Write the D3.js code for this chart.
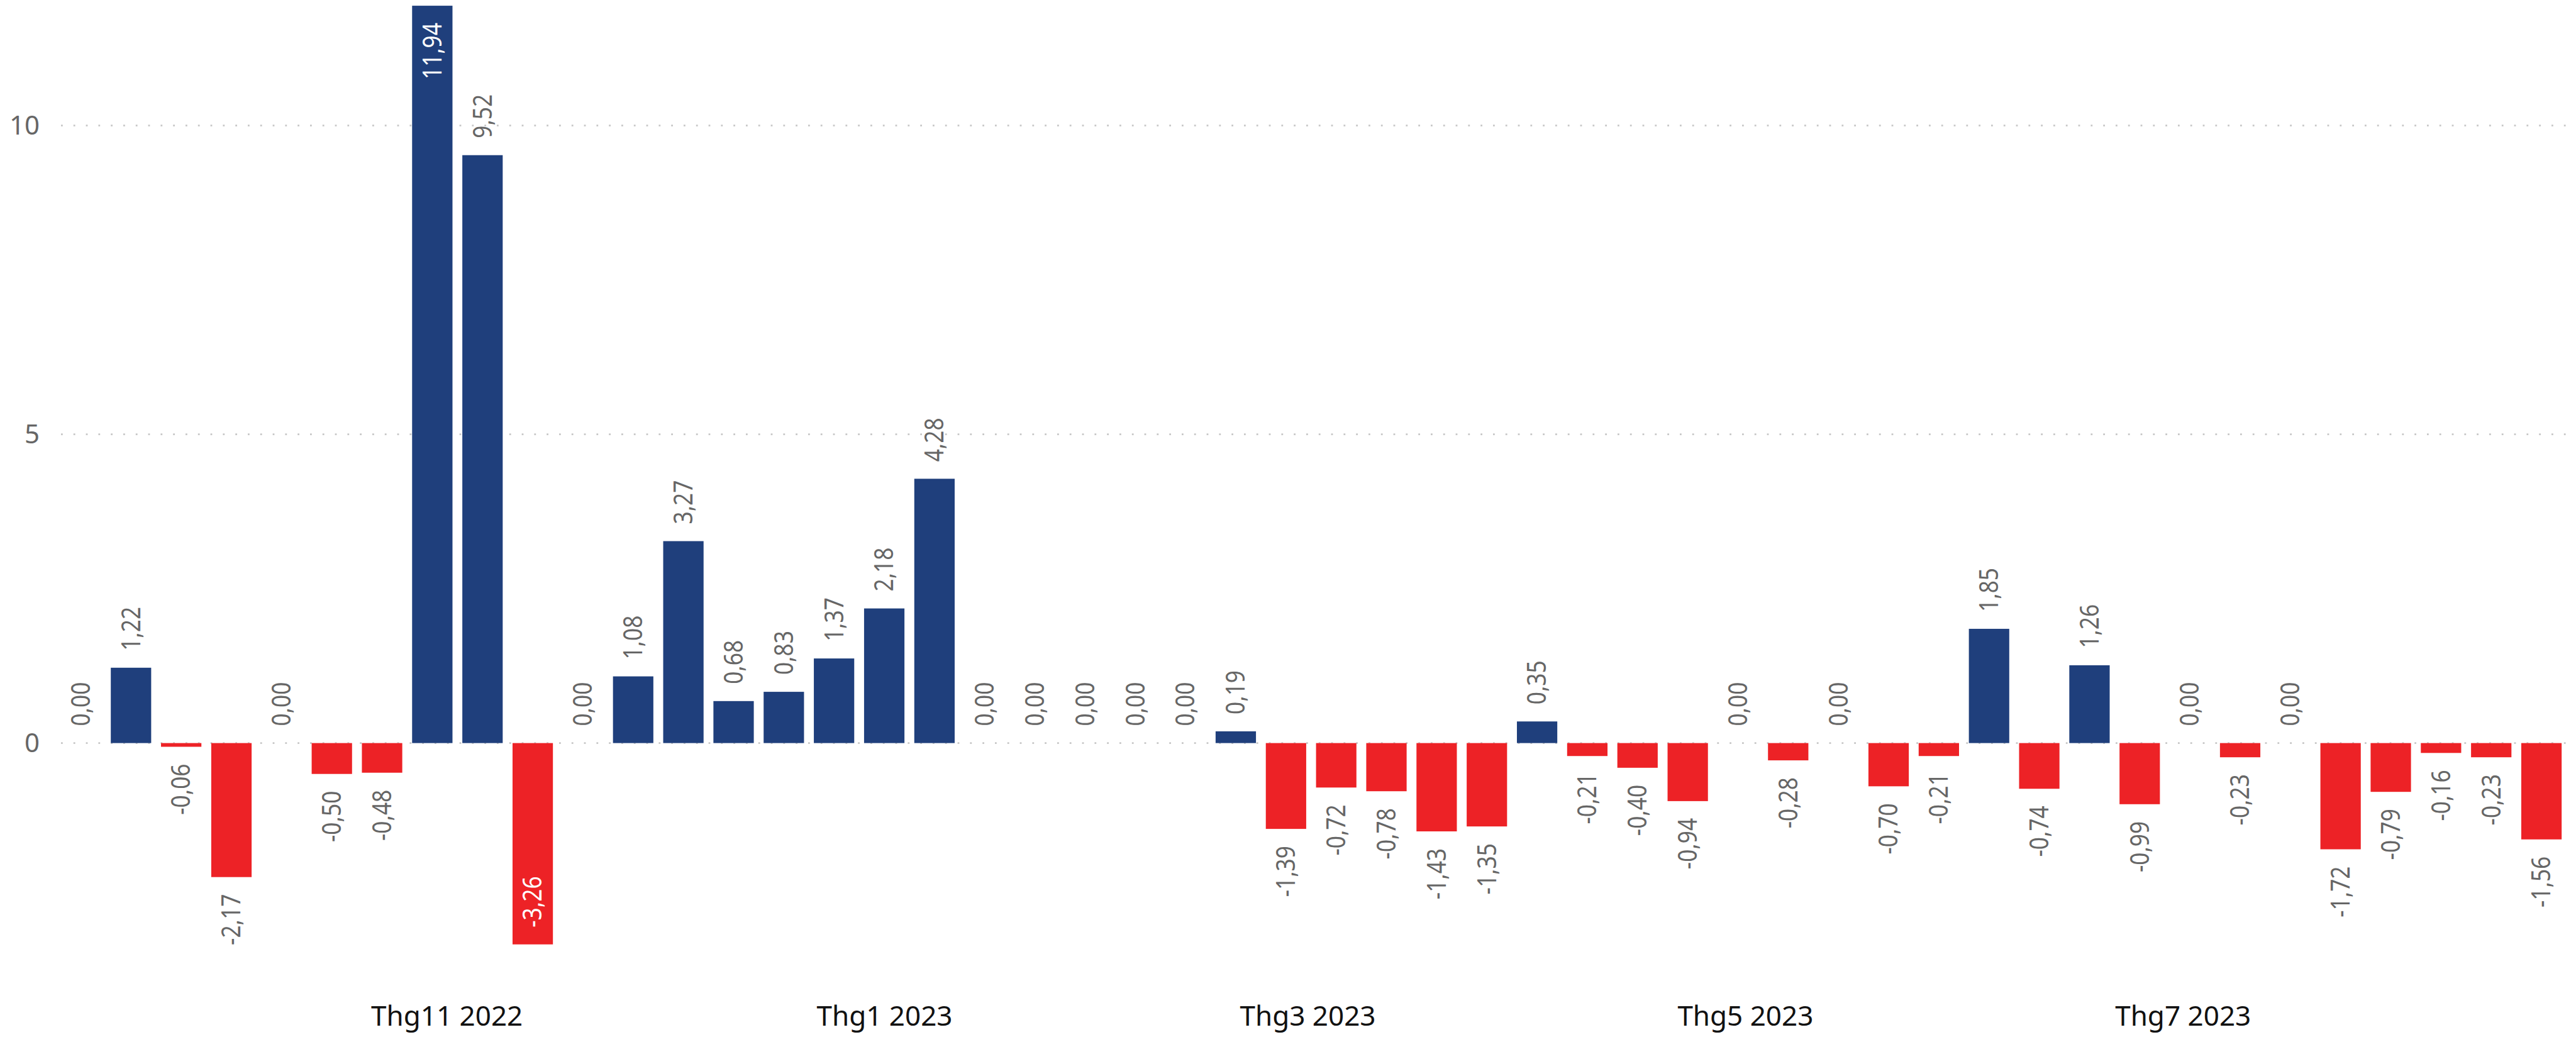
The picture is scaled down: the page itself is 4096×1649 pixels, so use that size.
<!DOCTYPE html>
<html>
<head>
<meta charset="utf-8">
<script src="https://cdn.jsdelivr.net/npm/d3@7"></script>
<style>
  html, body { margin: 0; padding: 0; background: #fff; }
  svg { display: block; }
</style>
</head>
<body>
<svg id="chart" width="4096" height="1649"></svg>
<script>
// weekly buckets (week starting sunday)
const weeks = [
  "2022-09-11", "2022-09-18", "2022-09-25", "2022-10-02", "2022-10-09",
  "2022-10-16", "2022-10-23", "2022-10-30", "2022-11-06", "2022-11-13",
  "2022-11-20", "2022-11-27", "2022-12-04", "2022-12-11", "2022-12-18",
  "2022-12-25", "2023-01-01", "2023-01-08", "2023-01-15", "2023-01-22",
  "2023-01-29", "2023-02-05", "2023-02-12", "2023-02-19", "2023-02-26",
  "2023-03-05", "2023-03-12", "2023-03-19", "2023-03-26", "2023-04-02",
  "2023-04-09", "2023-04-16", "2023-04-23", "2023-04-30", "2023-05-07",
  "2023-05-14", "2023-05-21", "2023-05-28", "2023-06-04", "2023-06-11",
  "2023-06-18", "2023-06-25", "2023-07-02", "2023-07-09", "2023-07-16",
  "2023-07-23", "2023-07-30", "2023-08-06", "2023-08-13", "2023-08-20"
]

const values = [
  0.00, 1.22, -0.06, -2.17, 0.00, -0.50, -0.48, 11.94, 9.52, -3.26,
  0.00, 1.08, 3.27, 0.68, 0.83, 1.37, 2.18, 4.28, 0.00, 0.00,
  0.00, 0.00, 0.00, 0.19, -1.39, -0.72, -0.78, -1.43, -1.35, 0.35,
  -0.21, -0.40, -0.94, 0.00, -0.28, 0.00, -0.70, -0.21, 1.85, -0.74,
  1.26, -0.99, 0.00, -0.23, 0.00, -1.72, -0.79, -0.16, -0.23, -1.56
]

const monthTicks = ["2022-11-01", "2023-01-01", "2023-03-01", "2023-05-01", "2023-07-01"]
const monthLabels = ["Thg11 2022", "Thg1 2023", "Thg3 2023", "Thg5 2023", "Thg7 2023"]

const yTicks = [0, 5, 10]

////////////////// setup

const W = 4096, H = 1649
const blue = "#1f3f7c", red = "#ed2226"
const gray = "#666666"
const labelFont = "'Noto Sans', 'Open Sans', sans-serif"
const squeeze = 0.86   // value labels are a bit narrower than Noto Sans
const gap = 27

const parse = d3.utcParse("%Y-%m-%d")
const data = weeks.map((w, i) => ({ date: parse(w), value: values[i] }))

const halfWeek = 3.5 * 24 * 3600 * 1000
const x = d3.scaleUtc()
  .domain([+data[0].date - halfWeek, +data[data.length - 1].date + halfWeek])
  .range([88.5, 4081])

const y = d3.scaleLinear()
  .domain([-4, 12])
  .range([1574.4, 3.2])

const step = x(data[1].date) - x(data[0].date)
const barW = step * 0.804

const vn = d3.formatLocale({ decimal: ",", thousands: ".", grouping: [3], currency: ["", ""], minus: "-" })
const fmt = vn.format(".2f")

const svg = d3.select("#chart")

////////////////// gridlines

svg.append("g")
  .selectAll("line")
  .data(yTicks)
  .join("line")
  .attr("x1", 97)
  .attr("x2", 4084)
  .attr("y1", d => y(d))
  .attr("y2", d => y(d))
  .attr("stroke", "#c8c8c8")
  .attr("stroke-width", 2.8)
  .attr("stroke-dasharray", "2.8,17")

// y axis labels
const yAxis = svg.append("g")
  .attr("transform", "translate(63,0)")
  .call(d3.axisLeft(y).tickValues(yTicks).tickSize(0).tickPadding(0).tickFormat(d3.format("d")))
yAxis.select(".domain").remove()
yAxis.selectAll("text")
  .attr("fill", gray)
  .style("font-family", labelFont)
  .style("font-size", "42px")

// x axis labels
const xAxis = svg.append("g")
  .attr("transform", "translate(0,1600)")
  .call(d3.axisBottom(x).tickValues(monthTicks.map(parse)).tickSize(0).tickPadding(0)
    .tickFormat((d, i) => monthLabels[i]))
xAxis.select(".domain").remove()
xAxis.selectAll("text")
  .attr("fill", "#111")
  .attr("dy", "0.71em")
  .attr("y", 0)
  .style("font-family", labelFont)
  .style("font-size", "44px")

////////////////// bars

svg.append("g")
  .selectAll("rect")
  .data(data)
  .join("rect")
  .attr("x", d => x(d.date) - barW / 2)
  .attr("width", barW)
  .attr("y", d => y(Math.max(0, d.value)))
  .attr("height", d => Math.abs(y(d.value) - y(0)))
  .attr("fill", d => d.value >= 0 ? blue : red)

////////////////// value labels (rotated)

const labels = svg.append("g")
  .selectAll("text")
  .data(data)
  .join("text")
  .text(d => fmt(d.value))
  .attr("dy", "0.35em")
  .style("font-family", labelFont)
  .style("font-size", "41px")

labels.each(function (d) {
  const t = d3.select(this)
  const len = this.getComputedTextLength() * squeeze
  const y0 = y(d.value)
  const top = y.range()[1], bottom = y.range()[0]
  let inside, off, anchor
  if (d.value >= 0) {
    inside = y0 - gap - len < top
    off = inside ? -gap : gap
    anchor = inside ? "end" : "start"
  } else {
    inside = y0 + gap + len > bottom
    off = inside ? gap : -gap
    anchor = inside ? "start" : "end"
  }
  t.attr("text-anchor", anchor)
    .attr("fill", inside ? "#fff" : gray)
    .attr("transform", `translate(${x(d.date)},${y0}) rotate(-90) translate(${off},0) scale(${squeeze},1)`)
})
</script>
</body>
</html>
